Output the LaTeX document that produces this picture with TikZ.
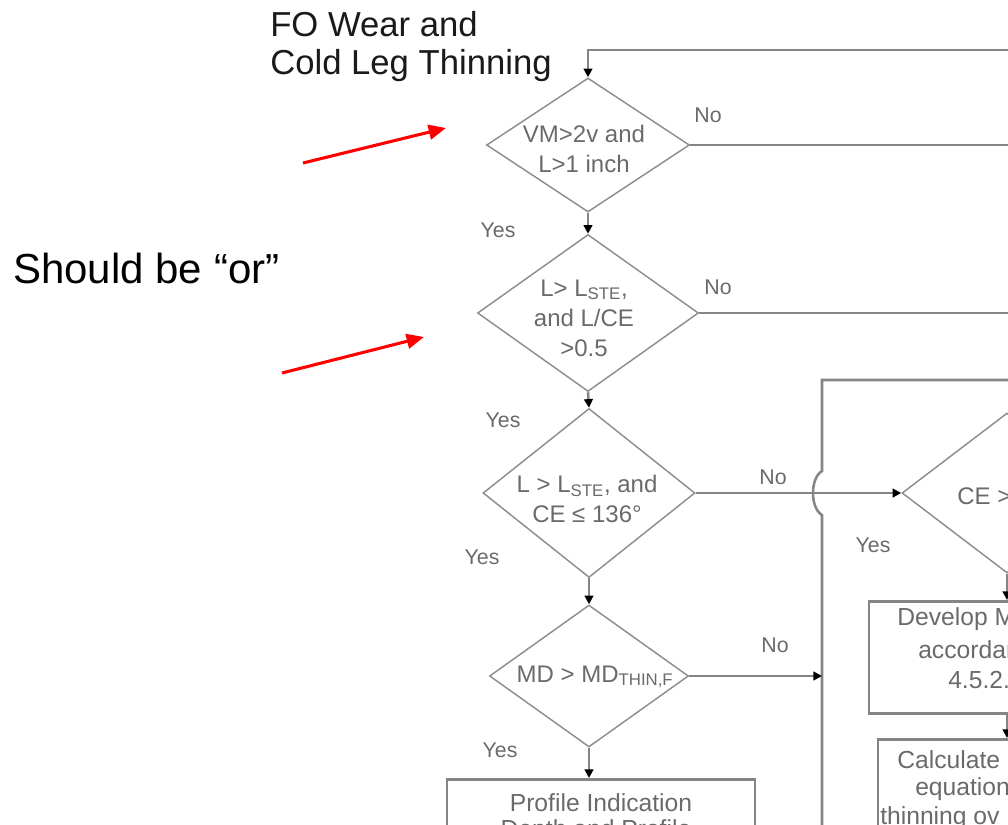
\documentclass[tikz,border=0pt]{standalone}
\usepackage{fontspec}
\setmainfont{Liberation Sans}
\usetikzlibrary{shapes.geometric,arrows.meta}
\definecolor{lgray}{HTML}{858585}
\definecolor{dgray}{HTML}{8E8E8E}
\definecolor{tgray}{HTML}{6A6A6A}
\definecolor{titlecol}{HTML}{1A1A1A}
\begin{document}
\begin{tikzpicture}[x=0.75pt,y=-0.75pt,
  conn/.style={draw=lgray,line width=1.9pt},
  arr/.style={conn,-{Triangle[length=6.5pt,width=6.5pt,color=black]}},
  dia/.style={diamond,draw=dgray,line width=1.1pt,inner sep=0pt},
  lbl/.style={text=tgray,inner sep=0pt,font=\fontsize{16}{19}\selectfont},
  dtxt/.style={text=tgray,inner sep=0pt,align=center,font=\fontsize{18}{22.5}\selectfont},
  btxt/.style={text=tgray,inner sep=0pt,font=\fontsize{18.5}{21}\selectfont},
  procbox/.style={rectangle,draw=lgray,line width=2pt,inner sep=0pt},
  redarr/.style={draw=red,line width=2.3pt,-{Triangle[length=13pt,width=11pt]}}]
\useasboundingbox (0,0) rectangle (1008,825);
\clip (0,0) rectangle (1008,825);

% title and note
\node[anchor=north west,align=left,inner sep=0pt,text=titlecol,
      font=\fontsize{26}{28.5}\selectfont] (title) at (270,11) {FO Wear and\\Cold Leg Thinning};
\node[anchor=west,inner sep=0pt,font=\fontsize{31.5}{36}\selectfont] (note) at (13,268) {Should be “or”};

% red arrows
\coordinate (ra1s) at (303,163);
\coordinate (ra1e) at (446,128);
\coordinate (ra2s) at (282,373);
\coordinate (ra2e) at (424,337);
\draw[redarr] (ra1s) -- (ra1e);
\draw[redarr] (ra2s) -- (ra2e);

% decisions
\node[dia,minimum width=152.25pt,minimum height=100.5pt] (d1) at (588,145) {};
\node[dia,minimum width=165.75pt,minimum height=117.75pt] (d2) at (588,313) {};
\node[dia,minimum width=159pt,minimum height=126.75pt] (d3) at (589,493) {};
\node[dia,minimum width=157.5pt,minimum height=120pt] (d4) at (1007,493) {};
\node[dia,minimum width=149.25pt,minimum height=106.5pt] (d5) at (589,676) {};

\node[dtxt] (t1) at (584,149) {VM>2v and\\L>1 inch};
\node[dtxt] (t2) at (584,318) {L> L\textsubscript{STE},\\and L/CE\\>0.5};
\node[dtxt] (t3) at (587,499) {L > L\textsubscript{STE}, and\\CE ≤ 136°};
\node[dtxt,anchor=west] (t4) at (957,496) {CE >};
\node[dtxt] (t5) at (595,677) {MD > MD\textsubscript{THIN,F}};

% boxes
\node[procbox,anchor=north,minimum width=231pt,minimum height=105pt] (boxP) at (601,778) {};
\node[procbox,anchor=north,minimum width=207pt,minimum height=84pt] (boxA) at (1007,600) {};
\node[procbox,anchor=north,minimum width=193.5pt,minimum height=90pt] (boxB) at (1007,738) {};

\node[btxt] (p1) at (601,803) {Profile Indication};
\node[btxt] (p2) at (596,831) {Depth and Profile};
\node[btxt,anchor=west] (a1) at (897,619) {Develop M};
\node[btxt,anchor=west] (a2) at (918,650) {accordance};
\node[btxt,anchor=west] (a3) at (948,680) {4.5.2.};
\node[btxt,anchor=west] (b1) at (897,760) {Calculate E};
\node[btxt,anchor=west] (b2) at (915,789) {equation};
\node[btxt,anchor=west] (b3) at (880,818) {thinning ov};

% edge coordinates
\coordinate (topR) at (1012,50);
\coordinate (edgeR) at (1012,0);
\coordinate (vtop) at (822,380);
\coordinate (vbot) at (822,840);

% connectors
\draw[arr] (topR) -| (d1.north);
\draw[conn] (d1.east) -- (d1.east -| edgeR);
\draw[arr] (d1.south) -- (d2.north);
\draw[conn] (d2.east) -- (d2.east -| edgeR);
\draw[arr] (d2.south) -- (d3.north);
\draw[arr] (d3.east) -- (d4.west);
\draw[arr] (d3.south) -- (d5.north);
\draw[conn] (vtop -| edgeR) -- (vtop) -- (822,471) .. controls (810,478) and (810,508) .. (822,515) -- (vbot);
\draw[arr] (d5.east) -- (d5.east -| vtop);
\draw[arr] (d5.south) -- (d5.south |- boxP.north);
\draw[arr] (d4.south) -- (boxA.north);
\draw[arr] (boxA.south) -- (boxB.north);

% labels
\node[lbl] (n1) at (708,115) {No};
\node[lbl] (y1) at (498,230) {Yes};
\node[lbl] (n2) at (718,287) {No};
\node[lbl] (y2) at (503,420) {Yes};
\node[lbl] (n3) at (773,477) {No};
\node[lbl] (y3) at (482,557) {Yes};
\node[lbl] (y4) at (873,545) {Yes};
\node[lbl] (n5) at (775,645) {No};
\node[lbl] (y5) at (500,750) {Yes};
\end{tikzpicture}
\end{document}
